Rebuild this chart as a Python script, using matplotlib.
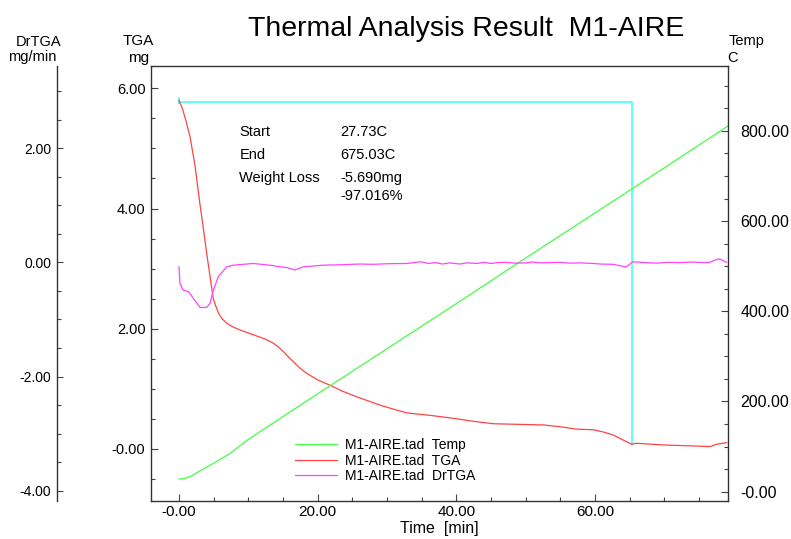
import matplotlib
matplotlib.use('Agg')
import matplotlib.pyplot as plt
from matplotlib.ticker import FixedLocator, FixedFormatter, MultipleLocator

plt.rcParams['font.family'] = ['Liberation Sans', 'DejaVu Sans']

# ---------------- data ----------------
title = "Thermal Analysis Result  M1-AIRE"

time_temp = [0.0, 0.9, 1.8, 3.0, 5.0, 7.4, 10.0, 20.0, 30.0, 40.0, 50.0, 60.0, 65.0, 70.0, 79.2]
temp = [27.7, 29.8, 34.9, 46.0, 63.0, 85.0, 116.0, 217.0, 317.0, 417.0, 518.0, 618.0, 668.0, 718.0, 811.0]

time_tga = [0.0, 0.5, 1.0, 1.6, 2.3, 3.0, 3.5, 4.0, 4.5, 4.95, 5.3, 5.7, 6.2, 6.9, 7.8, 8.8, 10.0,
            11.2, 12.4, 13.6, 14.3, 15.05, 15.8, 16.5, 17.4, 18.4, 20.0, 21.8, 23.6, 25.6, 27.3,
            29.0, 31.0, 32.9, 34.5, 36.2, 39.6, 42.5, 45.4, 49.0, 52.6, 55.0, 57.4, 59.8, 61.3,
            62.7, 63.7, 64.6, 65.3, 66.0, 69.9, 73.0, 76.6, 77.6, 79.0]
tga = [5.80, 5.66, 5.46, 5.19, 4.72, 4.09, 3.68, 3.25, 2.85, 2.50, 2.38, 2.26, 2.17, 2.09, 2.03,
       1.98, 1.93, 1.88, 1.83, 1.76, 1.70, 1.62, 1.53, 1.45, 1.35, 1.26, 1.15, 1.06, 0.96, 0.87,
       0.80, 0.73, 0.66, 0.60, 0.58, 0.56, 0.51, 0.46, 0.42, 0.41, 0.40, 0.37, 0.33, 0.32, 0.28,
       0.23, 0.17, 0.12, 0.08, 0.095, 0.067, 0.055, 0.04, 0.08, 0.105]

time_dr = [0.0, 0.14, 0.62, 1.34, 2.06, 3.03, 4.0, 4.47, 4.95, 5.67, 6.88, 7.84, 10.7, 13.1,
           14.6, 15.5, 16.7, 17.9, 20.8, 22.5, 24.0, 26.0, 28.0, 30.0, 32.9, 34.8, 36.0, 37.0,
           38.0, 39.0, 40.5, 41.5, 43.0, 44.0, 45.0, 46.0, 47.0, 48.5, 50.0, 51.0, 52.0, 53.5,
           55.0, 56.5, 57.9, 59.7, 60.8, 62.6, 64.5, 65.5, 67.5, 69.0, 70.5, 72.3, 74.0, 75.5,
           76.6, 77.6, 78.0, 79.0]
drtga = [-0.08, -0.37, -0.49, -0.51, -0.63, -0.79, -0.79, -0.72, -0.49, -0.25, -0.08, -0.05,
         -0.02, -0.05, -0.08, -0.09, -0.135, -0.08, -0.05, -0.045, -0.04, -0.03, -0.035, -0.025,
         -0.02, 0.01, -0.02, -0.005, -0.03, -0.01, -0.03, -0.01, -0.02, 0.0, -0.02, -0.005,
         0.0, -0.015, -0.01, 0.005, -0.01, -0.005, 0.0, -0.015, -0.01, -0.02, -0.03, -0.035,
         -0.08, 0.01, -0.007, -0.015, 0.0, -0.005, 0.005, -0.005, 0.0, 0.053, 0.058, 0.0]

cyan_t = [0.0, 0.0, 0.0, 65.3, 65.3]
cyan_v = [5.84, 5.76, 5.77, 5.77, 0.06]

ann_names = ["Start", "End", "Weight Loss", ""]
ann_values = ["27.73C", "675.03C", "-5.690mg", "-97.016%"]

legend_labels = ["M1-AIRE.tad  Temp", "M1-AIRE.tad  TGA", "M1-AIRE.tad  DrTGA"]

time_ticks = [0, 20, 40, 60]
time_ticklabels = ["-0.00", "20.00", "40.00", "60.00"]
tga_ticks = [0, 2, 4, 6]
tga_ticklabels = ["-0.00", "2.00", "4.00", "6.00"]
temp_ticks = [0, 200, 400, 600, 800]
temp_ticklabels = ["-0.00", "200.00", "400.00", "600.00", "800.00"]
dr_ticks = [-4, -2, 0, 2]
dr_ticklabels = ["-4.00", "-2.00", "0.00", "2.00"]

# ---------------- layout ----------------
W, H = 791, 539
fig = plt.figure(figsize=(W / 100, H / 100), dpi=100)
x0, x1, y0, y1 = 151, 728, 66, 501
ax = fig.add_axes([x0 / W, 1 - y1 / H, (x1 - x0) / W, (y1 - y0) / H])
ax_t = ax.twinx()
ax_d = ax.twinx()

spine_col = '#333333'
tick_col = '#444444'

c_temp = '#44ff44'
c_tga = '#ff4444'
c_dr = '#ff44ff'
c_cyan = '#44ffff'

# lines
ax.plot(cyan_t, cyan_v, color=c_cyan, lw=1.2, zorder=2)
l_tga, = ax.plot(time_tga, tga, color=c_tga, lw=0.9, zorder=3)
l_temp, = ax_t.plot(time_temp, temp, color=c_temp, lw=0.9)
l_dr, = ax_d.plot(time_dr, drtga, color=c_dr, lw=0.9)

# limits
ax.set_xlim(-4.04, 79.2)
ax.set_ylim(-0.865, 6.371)
ax_t.set_ylim(-20.7, 944)
ax_d.set_ylim(-4.18, 3.438)

# main axis (TGA + time)
for s in ['left', 'bottom', 'top']:
    ax.spines[s].set_color(spine_col)
    ax.spines[s].set_linewidth(1.0)
ax.spines['right'].set_visible(False)
ax.xaxis.set_major_locator(FixedLocator(time_ticks))
ax.xaxis.set_major_formatter(FixedFormatter(time_ticklabels))
ax.xaxis.set_minor_locator(MultipleLocator(5))
ax.yaxis.set_major_locator(FixedLocator(tga_ticks))
ax.yaxis.set_major_formatter(FixedFormatter(tga_ticklabels))
ax.yaxis.set_minor_locator(MultipleLocator(0.5))
ax.tick_params(axis='x', which='major', direction='in', length=5, width=0.8, color=tick_col,
               pad=3, labelsize=11, top=False)
ax.tick_params(axis='x', which='minor', direction='in', length=3, width=0.8, color=tick_col, top=False)
ax.tick_params(axis='y', which='major', direction='in', length=5, width=0.8, color=tick_col,
               pad=4, labelsize=10.5)
ax.tick_params(axis='y', which='minor', direction='in', length=3, width=0.8, color=tick_col)

# temp axis (right)
for s in ['left', 'bottom', 'top']:
    ax_t.spines[s].set_visible(False)
ax_t.spines['right'].set_color(spine_col)
ax_t.spines['right'].set_linewidth(1.0)
ax_t.yaxis.set_major_locator(FixedLocator(temp_ticks))
ax_t.yaxis.set_major_formatter(FixedFormatter(temp_ticklabels))
ax_t.yaxis.set_minor_locator(MultipleLocator(50))
ax_t.tick_params(axis='y', which='major', direction='in', length=5, width=0.8, color=tick_col,
                 pad=9, labelsize=11.5)
ax_t.tick_params(axis='y', which='minor', direction='in', length=3, width=0.8, color=tick_col)

# DrTGA axis (outer left)
for s in ['right', 'bottom', 'top']:
    ax_d.spines[s].set_visible(False)
ax_d.spines['left'].set_visible(True)
ax_d.spines['left'].set_position(('axes', (57 - x0) / (x1 - x0)))
ax_d.spines['left'].set_color(spine_col)
ax_d.spines['left'].set_linewidth(1.0)
ax_d.yaxis.set_ticks_position('left')
ax_d.yaxis.set_label_position('left')
ax_d.yaxis.set_major_locator(FixedLocator(dr_ticks))
ax_d.yaxis.set_major_formatter(FixedFormatter(dr_ticklabels))
ax_d.yaxis.set_minor_locator(MultipleLocator(0.5))
ax_d.tick_params(axis='y', which='major', direction='in', length=4, width=0.8, color=tick_col,
                 pad=4, labelsize=10)
ax_d.tick_params(axis='y', which='minor', direction='in', length=3, width=0.8, color=tick_col)

# legend
ax_d.legend([l_temp, l_tga, l_dr], legend_labels, loc='upper left',
            bbox_to_anchor=(0.2496, 0.145), frameon=False, fontsize=10,
            handlelength=3.0, handletextpad=0.6, labelspacing=0.12,
            borderpad=0, borderaxespad=0)

# annotation block
ann_y = [131.7, 155.0, 178.3, 196.0]
for name, val, yy in zip(ann_names, ann_values, ann_y):
    fy = (y1 - yy) / (y1 - y0)
    if name:
        ax_d.text((239.3 - x0) / (x1 - x0), fy, name, transform=ax_d.transAxes,
                  ha='left', va='center', fontsize=10.5)
    ax_d.text((340.0 - x0) / (x1 - x0), fy, val, transform=ax_d.transAxes,
              ha='left', va='center', fontsize=10.5)

# figure texts
def ftext(x, y, s, size, **kw):
    fig.text(x / W, 1 - y / H, s, fontsize=size, ha='center', va='center', **kw)

ftext(466, 29, title, 20.5)
ftext(39, 42.5, "DrTGA", 10.5)
ftext(32, 57, "mg/min", 10.5)
ftext(138, 41, "TGA", 11)
ftext(139, 58, "mg", 11)
ftext(746.7, 41, "Temp", 10.5)
ftext(733, 57.5, "C", 10.5)
ftext(439, 529, "Time  [min]", 11.5)

fig.savefig('out.png', dpi=100)
